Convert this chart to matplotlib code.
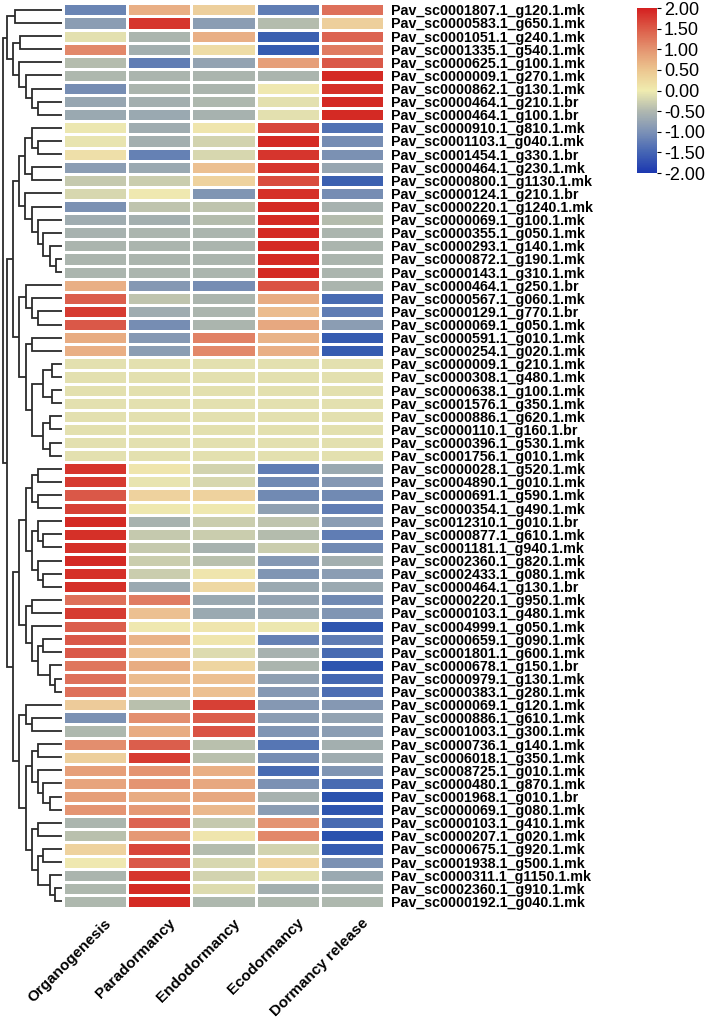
import numpy as np
import matplotlib
matplotlib.use("Agg")
import matplotlib.pyplot as plt
from matplotlib.colors import LinearSegmentedColormap, Normalize
from matplotlib.cm import ScalarMappable
from matplotlib.transforms import ScaledTranslation

plt.rcParams["font.family"] = ["Liberation Sans", "DejaVu Sans"]
plt.rcParams["axes.unicode_minus"] = False

# ---------------- data ----------------
stages = ["Organogenesis", "Paradormancy", "Endodormancy", "Ecodormancy", "Dormancy release"]

genes = [
    "Pav_sc0001807.1_g120.1.mk", "Pav_sc0000583.1_g650.1.mk", "Pav_sc0001051.1_g240.1.mk",
    "Pav_sc0001335.1_g540.1.mk", "Pav_sc0000625.1_g100.1.mk", "Pav_sc0000009.1_g270.1.mk",
    "Pav_sc0000862.1_g130.1.mk", "Pav_sc0000464.1_g210.1.br", "Pav_sc0000464.1_g100.1.br",
    "Pav_sc0000910.1_g810.1.mk", "Pav_sc0001103.1_g040.1.mk", "Pav_sc0001454.1_g330.1.br",
    "Pav_sc0000464.1_g230.1.mk", "Pav_sc0000800.1_g1130.1.mk", "Pav_sc0000124.1_g210.1.br",
    "Pav_sc0000220.1_g1240.1.mk", "Pav_sc0000069.1_g100.1.mk", "Pav_sc0000355.1_g050.1.mk",
    "Pav_sc0000293.1_g140.1.mk", "Pav_sc0000872.1_g190.1.mk", "Pav_sc0000143.1_g310.1.mk",
    "Pav_sc0000464.1_g250.1.br", "Pav_sc0000567.1_g060.1.mk", "Pav_sc0000129.1_g770.1.br",
    "Pav_sc0000069.1_g050.1.mk", "Pav_sc0000591.1_g010.1.mk", "Pav_sc0000254.1_g020.1.mk",
    "Pav_sc0000009.1_g210.1.mk", "Pav_sc0000308.1_g480.1.mk", "Pav_sc0000638.1_g100.1.mk",
    "Pav_sc0001576.1_g350.1.mk", "Pav_sc0000886.1_g620.1.mk", "Pav_sc0000110.1_g160.1.br",
    "Pav_sc0000396.1_g530.1.mk", "Pav_sc0001756.1_g010.1.mk", "Pav_sc0000028.1_g520.1.mk",
    "Pav_sc0004890.1_g010.1.mk", "Pav_sc0000691.1_g590.1.mk", "Pav_sc0000354.1_g490.1.mk",
    "Pav_sc0012310.1_g010.1.br", "Pav_sc0000877.1_g610.1.mk", "Pav_sc0001181.1_g940.1.mk",
    "Pav_sc0002360.1_g820.1.mk", "Pav_sc0002433.1_g080.1.mk", "Pav_sc0000464.1_g130.1.br",
    "Pav_sc0000220.1_g950.1.mk", "Pav_sc0000103.1_g480.1.mk", "Pav_sc0004999.1_g050.1.mk",
    "Pav_sc0000659.1_g090.1.mk", "Pav_sc0001801.1_g600.1.mk", "Pav_sc0000678.1_g150.1.br",
    "Pav_sc0000979.1_g130.1.mk", "Pav_sc0000383.1_g280.1.mk", "Pav_sc0000069.1_g120.1.mk",
    "Pav_sc0000886.1_g610.1.mk", "Pav_sc0001003.1_g300.1.mk", "Pav_sc0000736.1_g140.1.mk",
    "Pav_sc0006018.1_g350.1.mk", "Pav_sc0008725.1_g010.1.mk", "Pav_sc0000480.1_g870.1.mk",
    "Pav_sc0001968.1_g010.1.br", "Pav_sc0000069.1_g080.1.mk", "Pav_sc0000103.1_g410.1.mk",
    "Pav_sc0000207.1_g020.1.mk", "Pav_sc0000675.1_g920.1.mk", "Pav_sc0001938.1_g500.1.mk",
    "Pav_sc0000311.1_g1150.1.mk", "Pav_sc0002360.1_g910.1.mk", "Pav_sc0000192.1_g040.1.mk",
]

organogenesis = [
    -1.3, -1.0, -0.1, 1.2, -0.5, -0.55, -1.2, -0.85, -0.8,
    -0.02, -0.05, 0.15, -1.0, -0.35, -0.2, -1.15, -0.75, -0.65, -0.6, -0.6, -0.6,
    0.8, 1.55, 1.85, 1.6, 0.85, 0.8,
    -0.1, -0.1, -0.1, -0.1, -0.1, -0.1, -0.1, -0.1,
    1.9, 1.85, 1.6, 1.8, 2.0, 1.95, 1.95, 2.0, 1.95, 1.95,
    1.4, 1.85, 1.55, 1.6, 1.6, 1.35, 1.4, 1.4,
    0.45, -1.15, -0.55, 1.15, 0.4, 1.0, 0.95, 1.0, 1.1,
    -0.6, -0.45, 0.35, 0.0, -0.6, -0.55, -0.55,
]
paradormancy = [
    0.8, 1.9, -0.6, -0.7, -1.4, -0.6, -0.6, -0.7, -0.8,
    -0.75, -0.7, -1.35, -0.8, -0.3, 0.0, -0.4, -0.7, -0.6, -0.6, -0.6, -0.6,
    -1.05, -0.4, -0.75, -1.2, -1.05, -1.0,
    -0.1, -0.1, -0.1, -0.1, -0.1, -0.1, -0.1, -0.1,
    0.05, -0.05, 0.35, 0.0, -0.65, -0.35, -0.35, -0.3, -0.3, -0.8,
    1.3, 0.6, 0.0, 0.75, 0.6, 0.85, 0.65, 0.65,
    -0.45, 1.15, 0.85, 1.55, 1.85, 1.1, 1.1, 0.85, 1.05,
    1.5, 1.05, 1.75, 1.6, 1.9, 2.0, 2.0,
]
endodormancy = [
    0.4, -1.0, 0.8, 0.2, -0.9, -0.6, -0.6, -0.55, -0.65,
    0.05, -0.25, -0.2, 0.6, 0.35, -1.1, -0.4, -0.5, -0.6, -0.6, -0.6, -0.6,
    -1.2, -0.6, -0.6, -0.6, 1.25, 1.2,
    -0.1, -0.1, -0.1, -0.1, -0.1, -0.1, -0.1, -0.1,
    -0.25, -0.2, 0.35, 0.0, -0.3, -0.3, -0.65, -0.45, 0.05, 0.25,
    -0.8, -0.8, 0.05, 0.05, -0.15, 0.3, 0.6, 0.6,
    1.8, 1.55, 1.65, -0.45, -0.45, 0.8, 0.9, 0.9, 0.7,
    -0.35, 0.05, -0.5, -0.2, -0.25, -0.15, -0.55,
]
ecodormancy = [
    -1.4, -0.5, -1.8, -1.85, 1.0, -0.6, 0.0, -0.1, -0.1,
    1.75, 2.0, 1.9, 1.9, 1.7, 1.95, 2.0, 2.0, 2.0, 2.0, 2.0, 2.0,
    1.65, 0.85, 0.65, 0.9, 0.75, 0.8,
    -0.1, -0.1, -0.1, -0.1, -0.1, -0.1, -0.1, -0.1,
    -1.4, -1.25, -1.25, -0.95, -0.4, -0.5, -0.3, -1.05, -1.1, -0.8,
    -0.9, -0.85, -0.02, -1.35, -0.65, -0.6, -0.95, -1.05,
    -1.05, -1.0, -1.1, -1.5, -1.2, -1.65, -1.15, -0.65, -1.0,
    1.1, 1.2, -0.25, 0.3, -0.1, -0.7, -0.55,
]
dormancy_release = [
    1.4, 0.4, 1.5, 1.3, 1.6, 2.0, 1.95, 2.0, 2.0,
    -1.55, -1.2, -1.15, -0.85, -1.8, -1.2, -0.65, -0.5, -0.6, -0.6, -0.6, -0.6,
    -0.6, -1.65, -1.4, -1.0, -1.85, -1.85,
    -0.1, -0.1, -0.1, -0.1, -0.1, -0.1, -0.1, -0.1,
    -0.8, -1.05, -1.25, -1.4, -1.0, -1.4, -1.25, -0.7, -1.0, -0.8,
    -1.25, -1.1, -1.95, -1.4, -1.65, -1.95, -1.7, -1.6,
    -1.05, -0.9, -1.0, -0.7, -0.75, -1.1, -1.65, -2.0, -1.95,
    -1.65, -2.0, -1.85, -1.15, -0.8, -0.65, -0.55,
]

# row dendrogram: (merge height, left, right); leaves are row indices
clu_a = (55, (47, 0, 1), (49, (42, 2, 3), (43, 4, (36, 5, (30, 6, (24, 7, 8))))))
clu_e1 = (43, (37, (30, 9, (24, 10, 11)), (30, 12, 13)),
          (37, 14, (30, 15, (24, 16, (19, 17, (12, 18, (6, 19, 20)))))))
clu_e2 = (43, (36, 21, (30, 22, (24, 23, 24))),
          (36, (30, 25, 26), (30, (19, (10, 27, 28), (10, 29, 30)), (19, (12, 31, 32), (12, 33, 34)))))
clu_g = (43, (36, (30, (24, 35, 36), (24, 37, 38)), (30, (24, 39, (19, 40, 41)), (24, 42, (19, 43, 44)))),
         (36, (30, 45, 46), (30, 47, (24, (19, 48, 49), (12, 50, (7, 51, 52))))))
clu_h = (43, (36, 53, (30, 54, 55)),
         (36, (30, (24, 56, 57), (24, 58, (19, 59, (12, 60, 61)))),
          (30, (24, 62, 63), (24, (19, 64, 65), (12, 66, (7, 67, 68))))))
tree = (59, clu_a, (55, (49, clu_e1, clu_e2), (49, clu_g, clu_h)))

cbar_ticks = [2.0, 1.5, 1.0, 0.5, 0.0, -0.5, -1.0, -1.5, -2.0]

# ---------------- styling ----------------
cmap = LinearSegmentedColormap.from_list("hm", [
    (0.000, "#2a52ae"), (0.125, "#5676b4"), (0.250, "#8b9db3"), (0.375, "#b3bbad"),
    (0.500, "#efe9b0"), (0.625, "#edc897"), (0.750, "#e6a07a"), (0.875, "#dc6552"),
    (1.000, "#d42a24")])
cmap_bar = LinearSegmentedColormap.from_list("bar", [
    (0.000, "#1c38b0"), (0.125, "#4565b4"), (0.250, "#7d92b6"), (0.375, "#b0b8b0"),
    (0.500, "#f0ecb0"), (0.625, "#ecc690"), (0.750, "#e49470"), (0.875, "#dc5c48"),
    (1.000, "#d42020")])
norm = Normalize(-2, 2)

W, H = 708, 1021
fig = plt.figure(figsize=(W / 100, H / 100), dpi=100)


def px_axes(x0, y0, x1, y1):
    return fig.add_axes([x0 / W, 1 - y1 / H, (x1 - x0) / W, (y1 - y0) / H])


n = len(genes)
mat = np.array([organogenesis, paradormancy, endodormancy, ecodormancy, dormancy_release]).T

ax = px_axes(63, 3.3, 384, 908)
ax.pcolormesh(np.arange(6), np.arange(n + 1), mat, cmap=cmap, norm=norm,
              edgecolors="white", linewidth=1.0)
ax.set_xlim(0, 5)
ax.set_ylim(n, 0)
ax.set_yticks(np.arange(n) + 0.5)
ax.set_yticklabels(genes, fontsize=10.3, fontweight="bold")
ax.yaxis.tick_right()
ax.tick_params(axis="y", length=0, pad=5)
ax.set_xticks([])
for s in ax.spines.values():
    s.set_visible(False)

off = ScaledTranslation(9 / 100, -8 / 100, fig.dpi_scale_trans)
for i, s in enumerate(stages):
    ax.text(i + 0.5, n, s, transform=ax.transData + off, rotation=45,
            rotation_mode="anchor", ha="right", va="top",
            fontsize=11, fontweight="bold")

# dendrogram
dax = px_axes(0, 3.3, 63, 908)
dax.set_ylim(n, 0)
dax.set_xlim(62, -1)
dax.axis("off")


def draw(node):
    if isinstance(node, int):
        return node + 0.5, 0.0
    h, l, r = node
    yl, hl = draw(l)
    yr, hr = draw(r)
    dax.plot([hl, h, h, hr], [yl, yl, yr, yr], color="#2b2b2b", lw=1.3,
             solid_joinstyle="miter", solid_capstyle="butt")
    return (yl + yr) / 2, h


draw(tree)

# colorbar
cax = px_axes(637, 8, 657, 173)
cb = fig.colorbar(ScalarMappable(norm=norm, cmap=cmap_bar), cax=cax, ticks=cbar_ticks)
cb.outline.set_visible(False)
cb.ax.set_yticklabels([f"{t:.2f}" for t in cbar_ticks])
cb.ax.tick_params(labelsize=13, length=3, width=0.8, pad=2)

fig.savefig("out.png", dpi=100)
